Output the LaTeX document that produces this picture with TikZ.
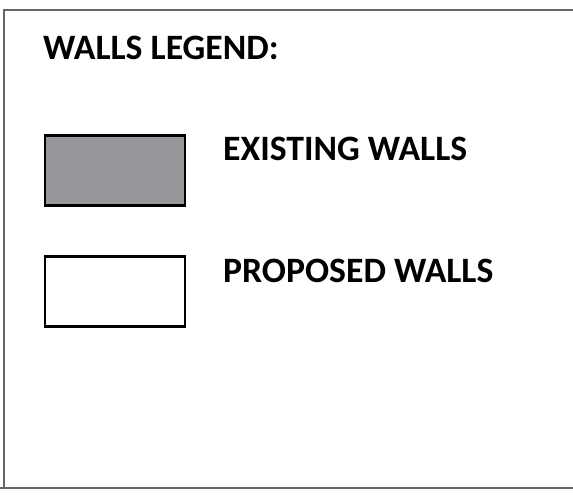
\documentclass[tikz,border=0pt]{standalone}
\usepackage{fontspec}
\setmainfont{Carlito}
\usetikzlibrary{positioning}
\definecolor{framegray}{HTML}{656565}
\definecolor{wallgray}{HTML}{96979B}
\tikzset{
  legendtext/.style={font=\fontsize{35.7}{42}\selectfont\bfseries, inner sep=0pt, anchor=base west},
  wallbox/.style={draw=black, line width=2.5pt, minimum width=140pt, minimum height=70pt, inner sep=0pt}
}
\begin{document}
\begin{tikzpicture}[x=1pt, y=1pt]
\useasboundingbox (0,0) rectangle (573,495);
% frame
\draw[framegray, line width=2.5pt] (573,485) -- (4,485) -- (4,7);
\draw[framegray, line width=2.5pt] (0,7) -- (573,7);
% legend
\node[legendtext] (title) at (43,435.7) {WALLS LEGEND:};
\node[wallbox, fill=wallgray] (existing) at (115,324.5) {};
\node[wallbox, fill=white] (proposed) at (115,203.5) {};
\node[legendtext] (existinglabel) at (223,334) {EXISTING WALLS};
\node[legendtext] (proposedlabel) at (223,212.3) {PROPOSED WALLS};
\end{tikzpicture}
\end{document}
